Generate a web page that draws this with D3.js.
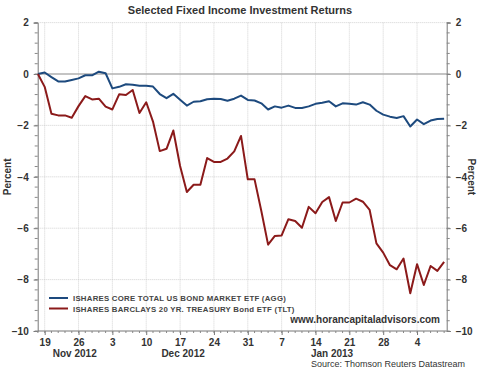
<!DOCTYPE html>
<html><head><meta charset="utf-8">
<script src="https://cdn.jsdelivr.net/npm/d3@7"></script>
<style>body{margin:0;background:#fff;} svg{display:block;font-family:"Liberation Sans",Arial,sans-serif;}</style>
</head><body><svg id="c" width="480" height="378"></svg>
<script>
const dates = ["2012-11-16",
"2012-11-19","2012-11-20","2012-11-21","2012-11-22","2012-11-23",
"2012-11-26","2012-11-27","2012-11-28","2012-11-29","2012-11-30",
"2012-12-03","2012-12-04","2012-12-05","2012-12-06","2012-12-07",
"2012-12-10","2012-12-11","2012-12-12","2012-12-13","2012-12-14",
"2012-12-17","2012-12-18","2012-12-19","2012-12-20","2012-12-21",
"2012-12-24","2012-12-25","2012-12-26","2012-12-27","2012-12-28",
"2012-12-31","2013-01-01","2013-01-02","2013-01-03","2013-01-04",
"2013-01-07","2013-01-08","2013-01-09","2013-01-10","2013-01-11",
"2013-01-14","2013-01-15","2013-01-16","2013-01-17","2013-01-18",
"2013-01-21","2013-01-22","2013-01-23","2013-01-24","2013-01-25",
"2013-01-28","2013-01-29","2013-01-30","2013-01-31","2013-02-01",
"2013-02-04","2013-02-05","2013-02-06","2013-02-07","2013-02-08"];
const agg = [0,0.06,-0.12,-0.29,-0.29,-0.23,-0.17,-0.05,-0.05,0.09,0.03,
-0.56,-0.5,-0.4,-0.42,-0.46,-0.46,-0.49,-0.78,-0.94,-0.77,
-1.0,-1.23,-1.08,-1.06,-0.98,-0.96,-0.97,-1.04,-0.96,-0.84,
-1.01,-1.03,-1.14,-1.38,-1.26,-1.31,-1.23,-1.32,-1.32,-1.26,
-1.16,-1.12,-1.06,-1.26,-1.14,-1.16,-1.19,-1.1,-1.19,-1.43,
-1.58,-1.66,-1.71,-1.64,-2.04,-1.77,-1.95,-1.81,-1.75,-1.74];
const tlt = [0,-0.5,-1.55,-1.61,-1.61,-1.7,-1.25,-0.86,-0.99,-0.96,-1.27,
-1.38,-0.79,-0.82,-0.62,-1.52,-1.1,-1.85,-3.0,-2.91,-2.2,
-3.58,-4.59,-4.31,-4.31,-3.27,-3.42,-3.42,-3.29,-3.01,-2.41,
-4.1,-4.1,-5.33,-6.64,-6.3,-6.28,-5.65,-5.72,-5.98,-5.17,
-5.42,-4.98,-4.79,-5.72,-5.0,-5.0,-4.85,-4.97,-5.29,-6.59,
-6.95,-7.44,-7.6,-7.18,-8.53,-7.4,-8.21,-7.47,-7.66,-7.31];
const seriesNames = ["ISHARES CORE TOTAL US BOND MARKET ETF (AGG)","ISHARES BARCLAYS 20 YR. TREASURY Bond ETF (TLT)"];
const seriesColors = ["#1d4a7e","#8b1a1a"];
const yTicks = [2,0,-2,-4,-6,-8,-10];
const monthLabels = [["2012-11","Nov 2012"],["2012-12","Dec 2012"],["2013-01","Jan 2013"]];

const svg = d3.select("#c");
const L = 37.7, R = 446.7, T = 22.6, B = 331;
const x = d3.scaleLinear().domain([-0.03, dates.length - 1 + 0.38]).range([L, R]);
const y = d3.scaleLinear().domain([-10, 2]).range([B, T]);
const parse = d3.timeParse("%Y-%m-%d");
const dObj = dates.map(parse);
const mondays = d3.range(dates.length).filter(i => dObj[i].getDay() === 1);

// grid
const g = svg.append("g");
g.selectAll(".vg").data(mondays).join("line")
  .attr("x1", i => x(i)).attr("x2", i => x(i)).attr("y1", T).attr("y2", B)
  .attr("stroke", "#c8c8c8").attr("stroke-width", 0.8).attr("stroke-dasharray", "1,1");
g.selectAll(".hg").data(yTicks.filter(v => v !== 0 && v !== -10)).join("line")
  .attr("x1", L).attr("x2", R).attr("y1", v => y(v)).attr("y2", v => y(v))
  .attr("stroke", "#c8c8c8").attr("stroke-width", 0.8).attr("stroke-dasharray", "1,1");
g.append("line").attr("x1", L).attr("x2", R).attr("y1", y(0)).attr("y2", y(0))
  .attr("stroke", "#b0b0b0").attr("stroke-width", 1.5);

// y axes
const minorY = d3.range(-10, 2.01, 0.4);
const axL = d3.axisLeft(y).tickValues(yTicks).tickSize(4).tickPadding(5).tickFormat(d3.format("d"));
const axR = d3.axisRight(y).tickValues(yTicks).tickSize(4).tickPadding(5).tickFormat(d3.format("d"));
const gl = svg.append("g").attr("transform", `translate(${L},0)`).call(axL);
const gr = svg.append("g").attr("transform", `translate(${R},0)`).call(axR);
[gl, gr].forEach(a => {
  a.select(".domain").attr("stroke", "#777");
  a.selectAll(".tick line").attr("stroke", "#777");
  a.selectAll("text").attr("font-size", 10).attr("font-weight", "bold").attr("fill", "#333");
});
gl.selectAll(".mt").data(minorY).join("line").attr("x1", -3).attr("x2", 0)
  .attr("y1", v => y(v)).attr("y2", v => y(v)).attr("stroke", "#888");
gr.selectAll(".mt").data(minorY).join("line").attr("x1", 0).attr("x2", 3)
  .attr("y1", v => y(v)).attr("y2", v => y(v)).attr("stroke", "#888");

// x axis
const axB = d3.axisBottom(x).tickValues(mondays).tickSize(4).tickPadding(4)
  .tickFormat(i => dObj[i].getDate());
const gb = svg.append("g").attr("transform", `translate(0,${B})`).call(axB);
gb.select(".domain").remove();
gb.append("line").attr("x1", L).attr("x2", R).attr("stroke", "#777");
gb.selectAll(".tick line").attr("stroke", "#777");
gb.selectAll("text").attr("font-size", 10).attr("font-weight", "bold").attr("fill", "#333");
gb.selectAll(".mt").data(d3.range(dates.length)).join("line")
  .attr("x1", i => x(i)).attr("x2", i => x(i)).attr("y1", 0).attr("y2", 2).attr("stroke", "#888");

monthLabels.forEach(([m, lab]) => {
  const idx = d3.range(dates.length).filter(i => dates[i].startsWith(m));
  const cx = (x(idx[0]) + x(idx[idx.length - 1])) / 2 + 3;
  svg.append("text").attr("x", cx).attr("y", 357).attr("text-anchor", "middle")
    .attr("font-size", 10).attr("font-weight", "bold").attr("fill", "#333").text(lab);
});

// lines
const line = d3.line().x((d, i) => x(i)).y(d => y(d));
[agg, tlt].forEach((s, k) => {
  svg.append("path").datum(s).attr("d", line).attr("fill", "none")
    .attr("stroke", seriesColors[k]).attr("stroke-width", 2).attr("stroke-linejoin", "round");
});

// legend
seriesNames.forEach((n, k) => {
  const ly = 298 + k * 10.5;
  svg.append("line").attr("x1", 49).attr("x2", 68).attr("y1", ly).attr("y2", ly)
    .attr("stroke", seriesColors[k]).attr("stroke-width", 2);
  svg.append("text").attr("x", 73).attr("y", ly + 3).attr("font-size", 7.8).attr("font-weight", "bold")
    .attr("letter-spacing", 0.25).attr("fill", "#444").text(n);
});
svg.append("text").attr("x", 440).attr("y", 323).attr("text-anchor", "end")
  .attr("font-size", 10).attr("font-weight", "bold").attr("fill", "#333").text("www.horancapitaladvisors.com");

// titles
svg.append("text").attr("x", 240).attr("y", 14).attr("text-anchor", "middle")
  .attr("font-size", 11).attr("font-weight", "bold").attr("fill", "#333").text("Selected Fixed Income Investment Returns");
svg.append("text").attr("transform", `translate(11,${(T + B) / 2}) rotate(-90)`).attr("text-anchor", "middle")
  .attr("font-size", 10).attr("font-weight", "bold").attr("fill", "#333").text("Percent");
svg.append("text").attr("transform", `translate(468,${(T + B) / 2}) rotate(90)`).attr("text-anchor", "middle")
  .attr("font-size", 10).attr("font-weight", "bold").attr("fill", "#333").text("Percent");
svg.append("text").attr("x", 465).attr("y", 367).attr("text-anchor", "end")
  .attr("font-size", 9).attr("fill", "#333").text("Source: Thomson Reuters Datastream");
</script></body></html>
